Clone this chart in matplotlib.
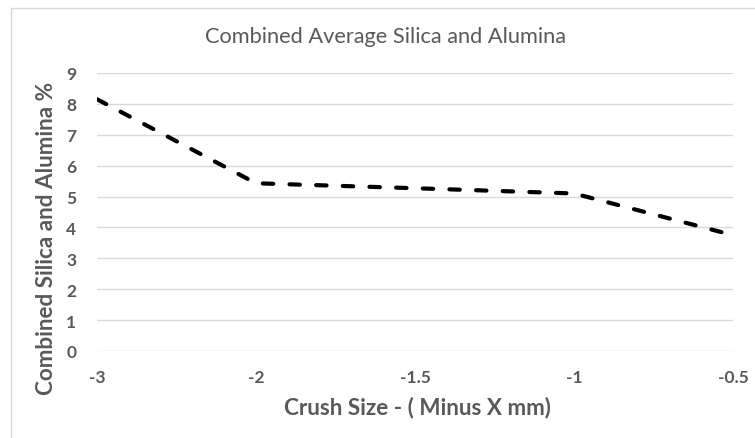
import matplotlib
matplotlib.use("Agg")
import matplotlib.pyplot as plt
from matplotlib.patches import Rectangle

categories = ["-3", "-2", "-1.5", "-1", "-0.5"]
values = [8.15, 5.43, 5.27, 5.1, 3.75]
yticks = list(range(0, 10))

plt.rcParams['font.family'] = ['Lato', 'DejaVu Sans']
gray = "#595959"
W, H = 755, 439

fig = plt.figure(figsize=(W / 100, H / 100), dpi=100)
fig.patches.append(Rectangle((10.5 / W, -0.01), 1.1, 1.01 - 8.5 / H, transform=fig.transFigure,
                             fill=False, edgecolor="#d9d9d9", lw=1))
ax = fig.add_axes([97 / W, 1 - 352 / H, 636 / W, 278 / H])
x = list(range(len(categories)))
ax.plot(x, values, color="black", lw=3, linestyle=(0, (2.5, 3.9)),
        dash_capstyle="round", solid_joinstyle="round")
ax.set_xlim(0, len(categories) - 1)
ax.set_ylim(0, 9)
ax.set_yticks(yticks)
ax.set_xticks(x)
ax.set_xticklabels(categories)
ax.grid(axis="y", color="#d9d9d9", lw=1)
ax.set_axisbelow(True)
for s in ax.spines.values():
    s.set_visible(False)
ax.tick_params(length=0, labelsize=12.5, colors=gray)
ax.tick_params(axis="x", pad=13)
ax.tick_params(axis="y", pad=15)
for lab in ax.get_xticklabels() + ax.get_yticklabels():
    lab.set_fontweight("bold")
fig.text(385 / W, 1 - 37 / H, "Combined Average Silica and Alumina", fontsize=15.7,
         color=gray, ha="center", va="center")
fig.text(417 / W, 1 - 408 / H, "Crush Size - ( Minus X mm)", fontsize=16.2,
         fontweight="bold", color=gray, ha="center", va="center")
fig.text(47 / W, 1 - 238 / H, "Combined Silica and Alumina %", fontsize=16.2,
         fontweight="bold", color=gray, ha="center", va="center", rotation=90)
fig.savefig("out.png", dpi=100)
